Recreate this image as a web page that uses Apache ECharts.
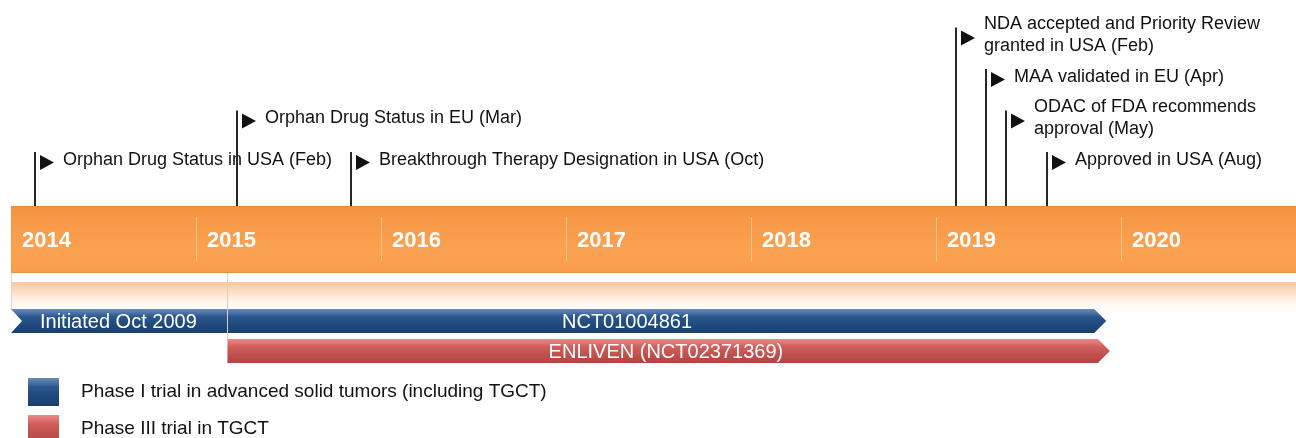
<!DOCTYPE html>
<html>
<head>
<meta charset="utf-8">
<script src="https://cdn.jsdelivr.net/npm/echarts@6/dist/echarts.min.js"></script>
<style>
html, body { margin: 0; padding: 0; background: #fff; }
#main { width: 1296px; height: 438px; }
</style>
</head>
<body>
<div id="main"></div>
<script>
// years in the orange band
var years = [2014, 2015, 2016, 2017, 2018, 2019, 2020];

// milestones (decimal year), flag level (0 = lowest) and text
var milestoneDates = [2014.13, 2015.22, 2015.84, 2019.11, 2019.27, 2019.38, 2019.6];
var milestoneLevels = [0, 1, 0, 3, 2, 1, 0];
var milestoneLabels = [
	'Orphan Drug Status in USA (Feb)',
	'Orphan Drug Status in EU (Mar)',
	'Breakthrough Therapy Designation in USA (Oct)',
	'NDA accepted and Priority Review\ngranted in USA (Feb)',
	'MAA validated in EU (Apr)',
	'ODAC of FDA recommends\napproval (May)',
	'Approved in USA (Aug)'
];

// trials
var trialNames = ['Phase I trial in advanced solid tumors (including TGCT)', 'Phase III trial in TGCT'];
var trialStart = [2014, 2015.17];
var trialEnd = [2019.92, 2019.94];
var trialLabels = ['NCT01004861', 'ENLIVEN (NCT02371369)'];
var trialLabelAt = [2017.33, 2017.54];
var trialNotes = ['Initiated Oct 2009', ''];

var FONT = '"Liberation Sans", Arial, sans-serif';
var BAND_TOP = 206, BAND_BOTTOM = 273;

function grad(stops) {
	return new echarts.graphic.LinearGradient(0, 0, 0, 1, stops.map(function (c, i) {
		return { offset: i / (stops.length - 1), color: c };
	}));
}

var trialColors = [
	grad(['#6a8cb8', '#2a568d', '#1f497d', '#1b3f6c']),
	grad(['#eb8a88', '#d05e5b', '#c0504d', '#b0433f'])
];
var laneTop = [309, 339];
var laneH = 24;

// orange year band
function renderBand(params, api) {
	var v = api.value(0);
	var x0 = api.coord([v, 0])[0];
	var x1 = api.coord([v + 1, 0])[0];
	var children = [
		{ type: 'rect', shape: { x: x0, y: BAND_TOP, width: x1 - x0 + 1, height: BAND_BOTTOM - BAND_TOP },
			style: { fill: grad(['#f5943f', '#f89b4a', '#faa251', '#f99d4c']) } },
		{ type: 'line', shape: { x1: x0, y1: BAND_TOP + 0.5, x2: x1 + 1, y2: BAND_TOP + 0.5 },
			style: { stroke: '#e2893c', lineWidth: 1 } },
		{ type: 'line', shape: { x1: x0, y1: BAND_BOTTOM - 0.5, x2: x1 + 1, y2: BAND_BOTTOM - 0.5 },
			style: { stroke: '#e39445', lineWidth: 1 } },
		// pale strip under the band
		{ type: 'rect', shape: { x: x0, y: 282, width: x1 - x0 + 1, height: 30 },
			style: { fill: grad(['#f7c89c', '#fbe0c7', '#fff6ee', '#ffffff']) } },
		{ type: 'text', style: { text: String(v), x: x0 + 11, y: 241, fill: '#fff',
			font: 'bold 22px ' + FONT, verticalAlign: 'middle' } }
	];
	if (params.dataIndex > 0) {
		children.push({ type: 'line', shape: { x1: x0 + 0.5, y1: 217, x2: x0 + 0.5, y2: 261 },
			style: { stroke: 'rgba(255,210,160,0.7)', lineWidth: 1 } });
	} else {
		children.push({ type: 'line', shape: { x1: x0 + 0.5, y1: 273, x2: x0 + 0.5, y2: 310 },
			style: { stroke: '#e4d6cc', lineWidth: 1 } });
	}
	return { type: 'group', children: children };
}

// flags on poles
function renderFlag(params, api) {
	var x = Math.round(api.coord([api.value(0), 0])[0]);
	var top = 152 - api.value(1) * 41.5;
	return { type: 'group', children: [
		{ type: 'line', shape: { x1: x, y1: top, x2: x, y2: BAND_TOP }, style: { stroke: '#262626', lineWidth: 2 } },
		{ type: 'polygon', shape: { points: [[x + 5, top + 3], [x + 19, top + 10.5], [x + 5, top + 18]] },
			style: { fill: '#111' } },
		{ type: 'text', style: { text: milestoneLabels[params.dataIndex], x: x + 28, y: top + 8,
			fill: '#111', font: '18px ' + FONT, verticalAlign: 'middle', lineHeight: 22 } }
	] };
}

function makeTrialRender(i) {
	return function (params, api) {
		var x0 = api.coord([api.value(0), 0])[0];
		var xe = api.coord([api.value(1), 0])[0];
		var y0 = laneTop[i], y1 = y0 + laneH, ym = y0 + laneH / 2;
		var pts = [[x0, y0], [xe - 12, y0], [xe, ym], [xe - 12, y1], [x0, y1]];
		if (i === 0) pts.push([x0 + 11, ym]);
		var children = [
			{ type: 'polygon', shape: { points: pts }, style: { fill: trialColors[i] } },
			{ type: 'text', style: { text: trialLabels[i], x: api.coord([trialLabelAt[i], 0])[0], y: ym + 1,
				fill: '#fff', font: '20px ' + FONT, align: 'center', verticalAlign: 'middle' } }
		];
		if (trialNotes[i]) {
			children.push({ type: 'text', style: { text: trialNotes[i], x: x0 + 29, y: ym + 1,
				fill: '#fff', font: '20px ' + FONT, verticalAlign: 'middle' } });
		}
		if (i > 0) {
			children.unshift({ type: 'line', shape: { x1: Math.round(x0) + 0.5, y1: BAND_BOTTOM, x2: Math.round(x0) + 0.5, y2: y0 },
				style: { stroke: '#d8cfc8', lineWidth: 1 } });
		}
		return { type: 'group', children: children };
	};
}

var series = [
	{ type: 'custom', name: 'band', renderItem: renderBand, data: years.map(function (y) { return [y]; }), silent: true },
	{ type: 'custom', name: 'milestones', renderItem: renderFlag,
		data: milestoneDates.map(function (d, i) { return [d, milestoneLevels[i]]; }), silent: true }
];
trialNames.forEach(function (name, i) {
	series.push({ type: 'custom', name: name, renderItem: makeTrialRender(i),
		itemStyle: { color: trialColors[i] },
		data: [[trialStart[i], trialEnd[i]]] });
});

// one legend per trial, stacked
var legendTops = [378, 415];
var legends = trialNames.map(function (name, i) {
	return {
		data: [name],
		orient: 'vertical',
		left: 28,
		top: legendTops[i],
		padding: 0,
		itemWidth: 31,
		itemHeight: 28,
		icon: 'rect',
		selectedMode: false,
		textStyle: { fontSize: 19, color: '#111', fontFamily: FONT, padding: [0, 0, 0, 17] }
	};
});

option = {
	backgroundColor: '#fff',
	animation: false,
	grid: { left: 11, right: 0, top: 0, bottom: 0 },
	xAxis: { type: 'value', min: 2014, max: 2014 + 1285 / 185, show: false },
	yAxis: { type: 'value', min: 0, max: 1, show: false },
	legend: legends,
	series: series
};

var myChart = echarts.init(document.getElementById('main'));
myChart.setOption(option);
</script>
</body>
</html>
